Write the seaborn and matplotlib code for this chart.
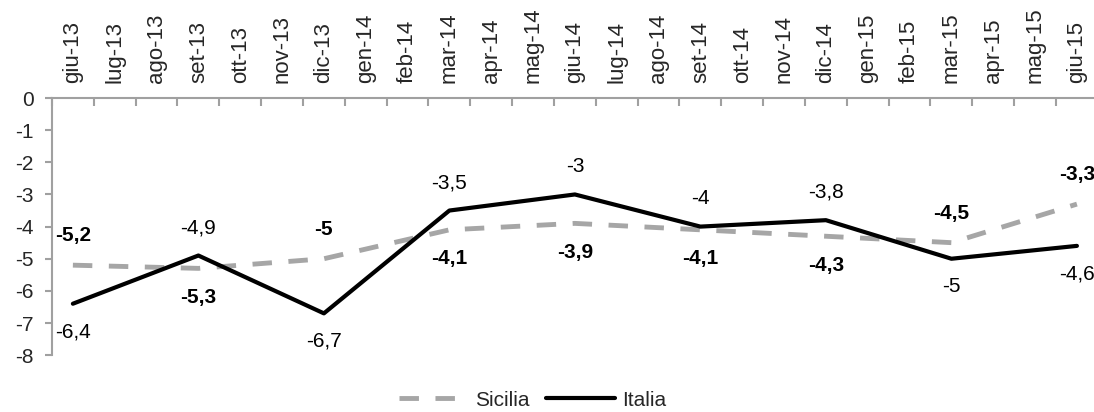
import matplotlib
matplotlib.use("Agg")
import matplotlib.pyplot as plt
import seaborn as sns
import pandas as pd
import numpy as np
from matplotlib import font_manager

months = ["giu-13", "lug-13", "ago-13", "set-13", "ott-13", "nov-13", "dic-13",
          "gen-14", "feb-14", "mar-14", "apr-14", "mag-14", "giu-14", "lug-14",
          "ago-14", "set-14", "ott-14", "nov-14", "dic-14", "gen-15", "feb-15",
          "mar-15", "apr-15", "mag-15", "giu-15"]
quarters = ["giu-13", "set-13", "dic-13", "mar-14", "giu-14", "set-14",
            "dic-14", "mar-15", "giu-15"]
sicilia = [-5.2, -5.3, -5.0, -4.1, -3.9, -4.1, -4.3, -4.5, -3.3]
italia = [-6.4, -4.9, -6.7, -3.5, -3.0, -4.0, -3.8, -5.0, -4.6]

# label placement: +1 above, -1 below
sic_side = [1, -1, 1, -1, -1, -1, -1, 1, 1]
ita_side = [-1, 1, -1, 1, 1, 1, 1, -1, -1]

sns.set_theme(style="white")
names = {f.name for f in font_manager.fontManager.ttflist}
has_narrow = "Liberation Sans Narrow" in names
HFAM = ["Liberation Sans Narrow" if has_narrow else "Liberation Sans", "DejaVu Sans"]
VFAM = ["Liberation Sans", "DejaVu Sans"]
FS = 16.5 if has_narrow else 15
plt.rcParams['font.family'] = HFAM

pos = [months.index(q) for q in quarters]
df = pd.DataFrame({"x": pos, "Sicilia": sicilia, "Italia": italia})

fig = plt.figure(figsize=(10.94, 4.12), dpi=100)
ax = fig.add_axes([0.0475, 0.138, 0.956, 0.624])

sns.lineplot(data=df, x="x", y="Sicilia", ax=ax, color="#A6A6A6", linewidth=3.5,
             label="Sicilia")
ax.lines[-1].set_dashes((4.0, 3.4))
sns.lineplot(data=df, x="x", y="Italia", ax=ax, color="black", linewidth=3.0,
             label="Italia")

def fmt(v):
    s = f"{v:.1f}".replace(".", ",")
    if s.endswith(",0"):
        s = s[:-2]
    return s

for x, v, sd in zip(pos, sicilia, sic_side):
    ax.annotate(fmt(v), (x, v), xytext=(0, 21 * sd), textcoords="offset points",
                ha="center", va="center", fontsize=FS, fontweight="bold",
                color="black", annotation_clip=False)
for x, v, sd in zip(pos, italia, ita_side):
    ax.annotate(fmt(v), (x, v), xytext=(0, 20 * sd), textcoords="offset points",
                ha="center", va="center", fontsize=FS, color="black",
                annotation_clip=False)

ax.set_xlim(-0.5, len(months) - 0.5)
ax.set_ylim(-8, 0)
ax.set_yticks(np.arange(-8, 1, 1))
ax.set_yticklabels([str(int(t)) for t in np.arange(-8, 1, 1)], fontsize=FS)

ax.xaxis.tick_top()
ax.set_xticks(range(len(months)))
ax.set_xticklabels(months, rotation=90, fontsize=16, family=VFAM)
ax.set_xticks(np.arange(-0.5, len(months), 1), minor=True)
ax.tick_params(axis="x", which="major", length=0, pad=11, top=True, bottom=False)
ax.tick_params(axis="x", which="minor", length=6, direction="in", width=1.5,
               color="#A0A0A0", top=True, bottom=False)
ax.tick_params(axis="y", which="major", length=5, direction="out", width=1.5,
               color="#A0A0A0", left=True, pad=8)
ax.set_xlabel("")
ax.set_ylabel("")

for s in ["right", "bottom"]:
    ax.spines[s].set_visible(False)
for s in ["left", "top"]:
    ax.spines[s].set_color("#A0A0A0")
    ax.spines[s].set_linewidth(1.5)

ax.get_legend().remove()
handles, labels = ax.get_legend_handles_labels()
leg = fig.legend(handles, labels, loc="lower center", bbox_to_anchor=(0.487, -0.04),
                 ncol=2, frameon=False, fontsize=FS, handlelength=3.3,
                 columnspacing=0.8, handletextpad=0.35)

fig.savefig("out.png", dpi=100)
